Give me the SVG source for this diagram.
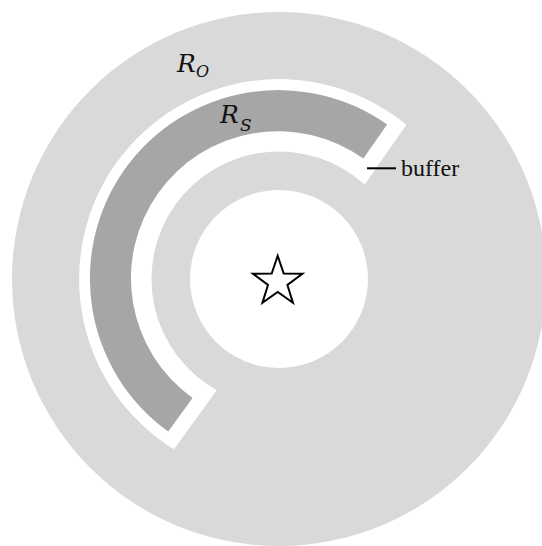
<svg xmlns="http://www.w3.org/2000/svg" width="542" height="546" viewBox="0 0 542 546">
  <style>
    .disk { fill: #d9d9d9; }
    .hole { fill: #ffffff; }
    .buffer { fill: #ffffff; }
    .sector { fill: #a6a6a6; }
    .star { fill: #ffffff; stroke: #000000; stroke-width: 2; stroke-linejoin: miter; }
    .lbl { font-family: "Liberation Serif", "DejaVu Serif", serif; fill: #111111; }
    .math { font-family: "DejaVu Serif", "Liberation Serif", serif; font-style: italic; fill: #111111; }
    .lead { stroke: #000000; stroke-width: 2; fill: none; }
  </style>
  <rect width="542" height="546" fill="#ffffff"/>
  <g id="outer-disk">
    <circle class="disk" cx="279" cy="279" r="267"/>
  </g>
  <g id="buffer-zone">
    <path class="buffer" d="M406.46,124.86 A200,200 0 1 0 173.91,449.17 L216.72,390.25 A127.5,127.5 0 1 1 364.66,184.56 Z"/>
  </g>
  <g id="sector-RS">
    <path class="sector" d="M387.12,124.58 A188.5,188.5 0 0 0 168.20,431.50 L192.59,397.93 A147,147 0 0 1 363.32,158.58 Z"/>
  </g>
  <g id="inner-hole">
    <circle class="hole" cx="279" cy="279" r="89"/>
  </g>
  <g id="star">
    <polygon class="star" points="277.7,255.8 283.7,273.55 302.43,273.77 287.4,284.95 292.98,302.83 277.7,292 262.42,302.83 268,284.95 252.97,273.77 271.7,273.55"/>
  </g>
  <g id="label-RO">
    <text class="math" x="177" y="71.7" font-size="25">R</text>
    <text class="math" x="196" y="76.7" font-size="16">O</text>
  </g>
  <g id="label-RS">
    <text class="math" x="220" y="122.7" font-size="25">R</text>
    <text class="math" x="240" y="130.7" font-size="17">S</text>
  </g>
  <g id="label-buffer">
    <text class="lbl" x="401" y="176" font-size="24">buffer</text>
  </g>
  <g id="connectors">
    <line class="lead" x1="367" y1="168.3" x2="396" y2="168.3"/>
  </g>
</svg>
